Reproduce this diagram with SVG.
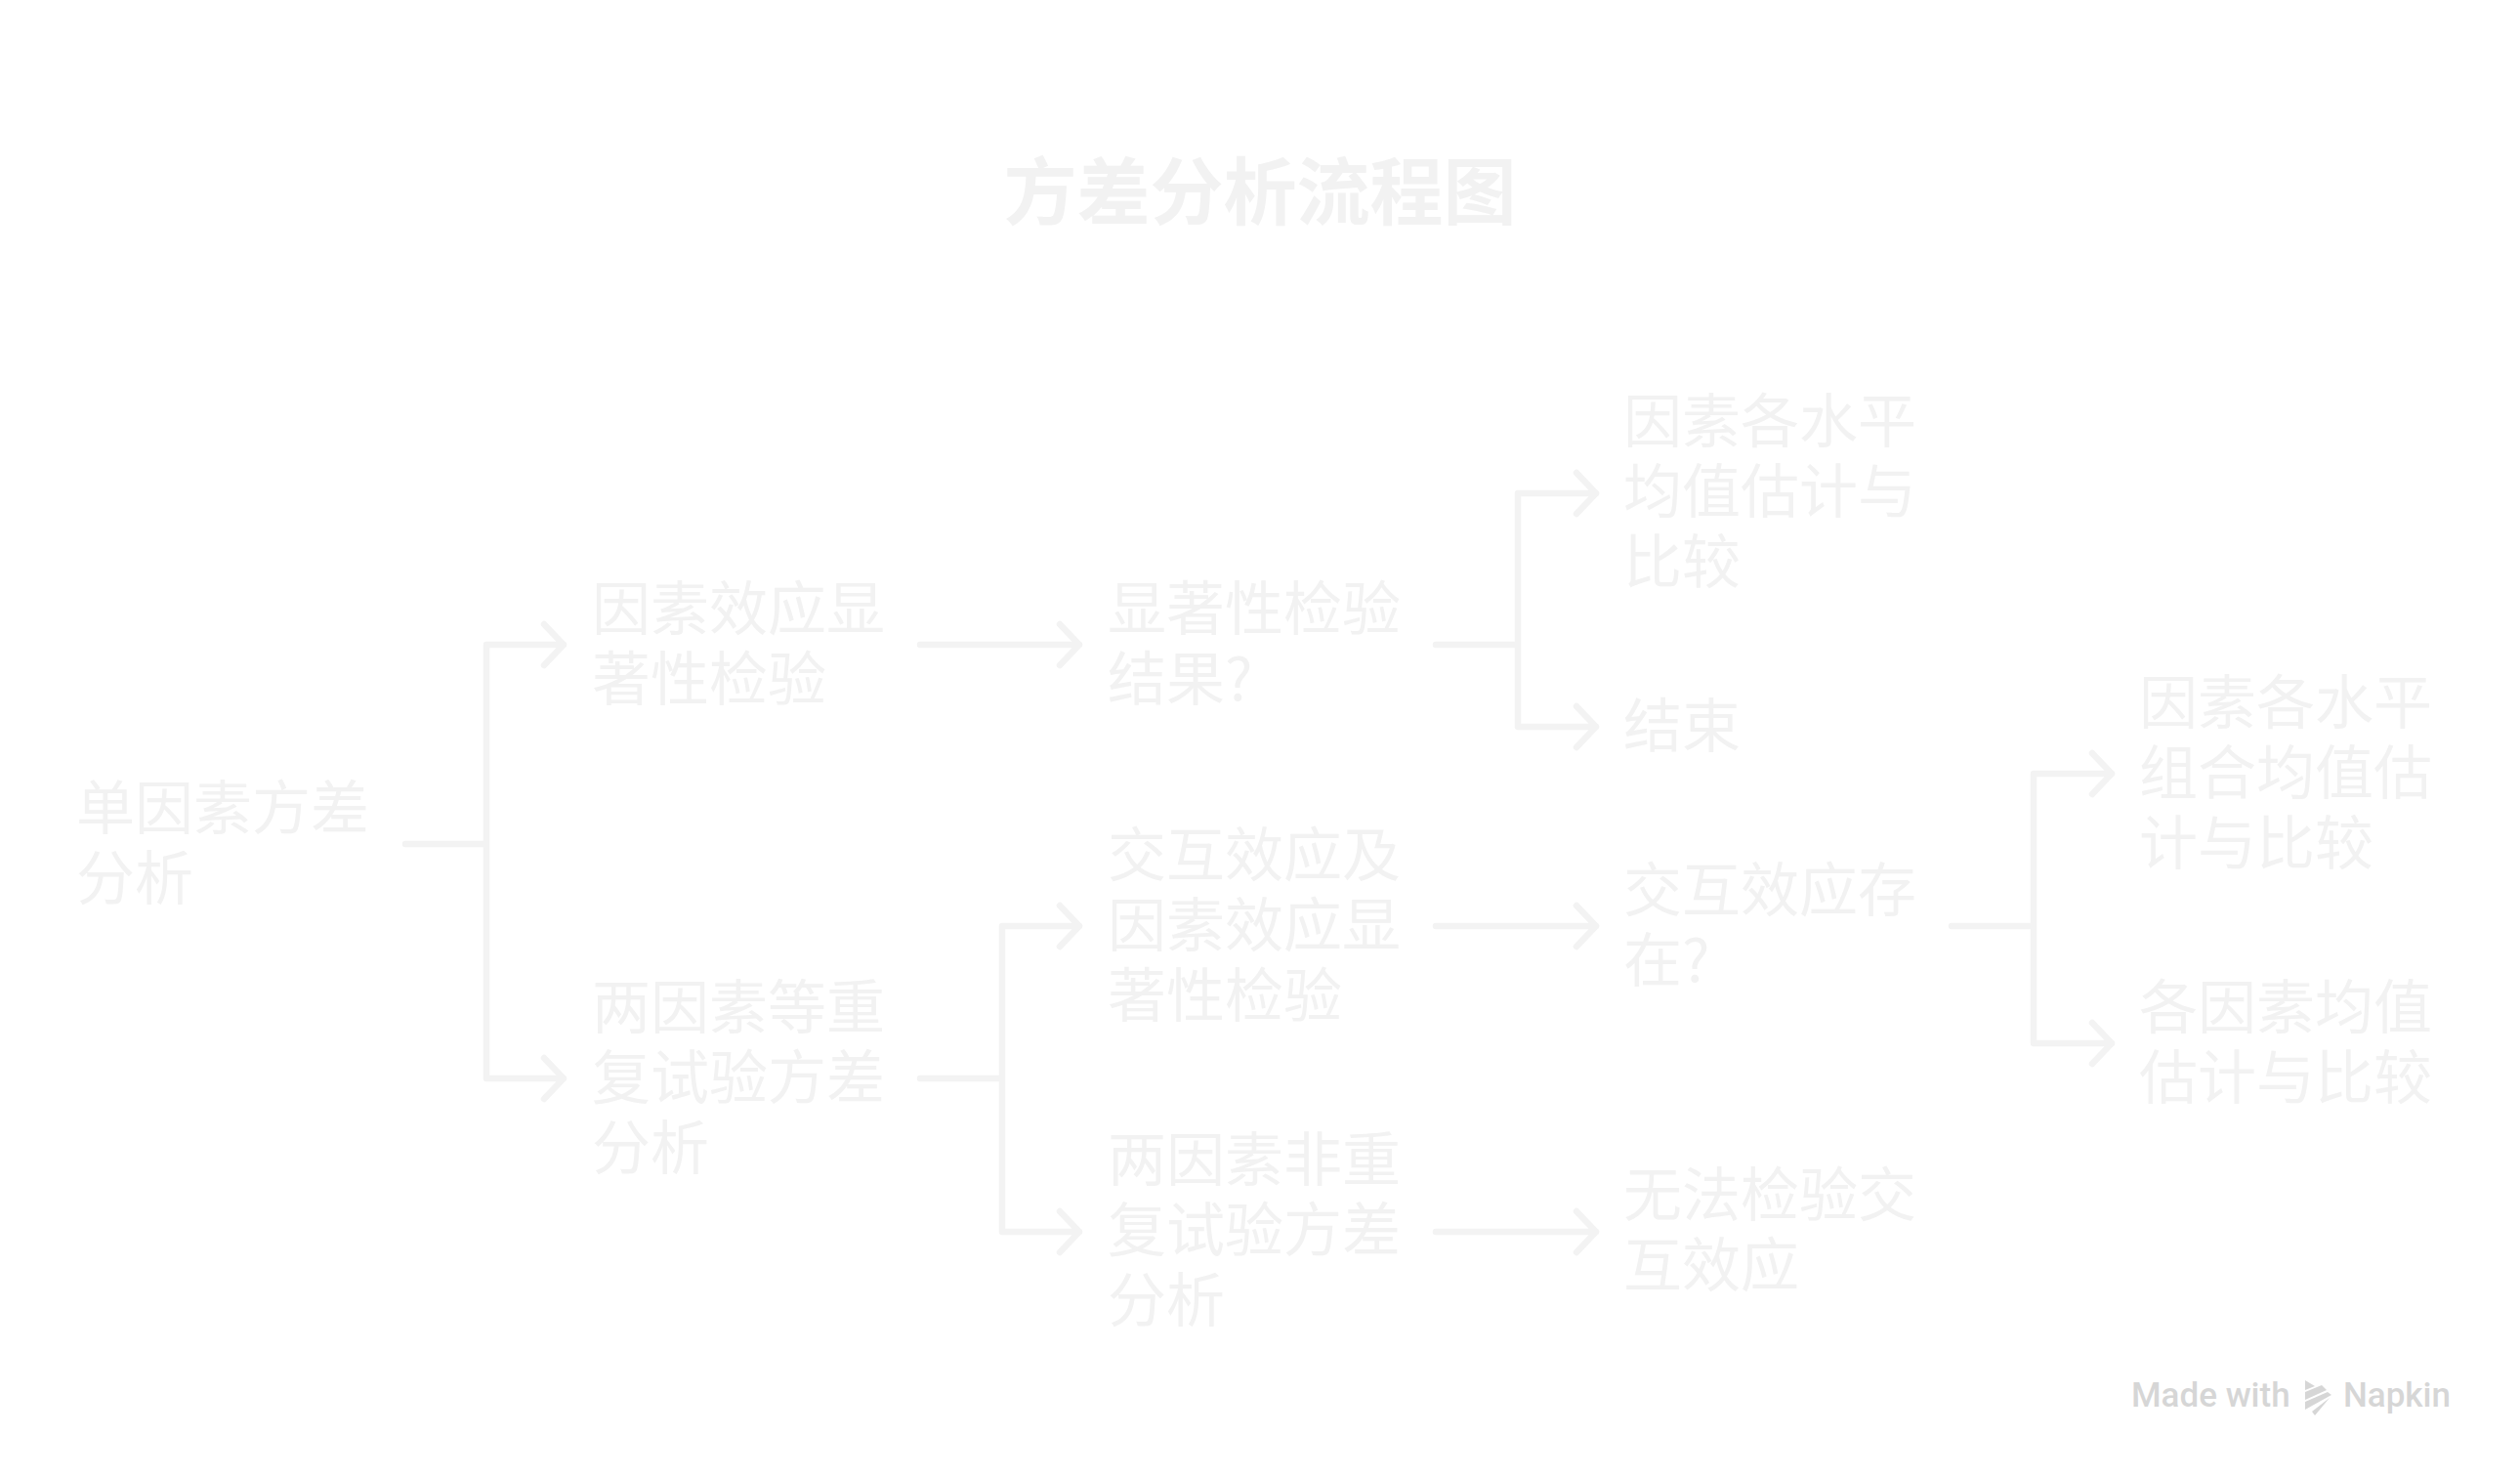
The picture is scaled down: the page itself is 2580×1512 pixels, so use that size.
<svg xmlns="http://www.w3.org/2000/svg" width="2580" height="1512" viewBox="0 0 2580 1512">
<style>
.t{font-family:"Noto Sans CJK SC","Noto Sans",sans-serif;font-size:60px;font-weight:400;fill:#f2f2f2}
.h{font-family:"Noto Sans CJK SC","Noto Sans",sans-serif;font-size:75px;font-weight:700;fill:#f2f2f2;text-anchor:middle}
.c{fill:none;stroke:#f3f3f3;stroke-width:6.5;stroke-linecap:round;stroke-linejoin:round}
.w{font-family:"Roboto",sans-serif;font-size:35px;font-weight:500;fill:#d6d6d6}
</style>
<rect width="2580" height="1512" fill="#fff"/>
<text class="h" x="1290" y="224">方差分析流程图</text>
<g id="connectors" class="c">
<path d="M415 864H498M498 1104V660H577M557 639L577 660L557 681M498 1104H577M557 1083L577 1104L557 1125"/>
<path d="M942 660H1105M1085 639L1105 660L1085 681"/>
<path d="M1470 660H1554M1554 744V505H1634M1614 484L1634 505L1614 526M1554 744H1634M1614 723L1634 744L1614 765"/>
<path d="M942 1104H1026M1026 1261V948H1105M1085 927L1105 948L1085 969M1026 1261H1105M1085 1240L1105 1261L1085 1282"/>
<path d="M1470 948H1634M1614 927L1634 948L1614 969"/>
<path d="M1470 1261H1634M1614 1240L1634 1261L1614 1282"/>
<path d="M1998 948H2082M2082 1068V792H2162M2142 771L2162 792L2142 813M2082 1068H2162M2142 1047L2162 1068L2142 1089"/>
</g>
<g id="n1" class="t"><text x="78" y="849">单因素方差</text><text x="78" y="921">分析</text></g>
<g id="n2" class="t"><text x="606" y="645">因素效应显</text><text x="606" y="717">著性检验</text></g>
<g id="n3" class="t"><text x="606" y="1053">两因素等重</text><text x="606" y="1125">复试验方差</text><text x="606" y="1197">分析</text></g>
<g id="n4" class="t"><text x="1134" y="645">显著性检验</text><text x="1134" y="717">结果?</text></g>
<g id="n5" class="t"><text x="1134" y="897">交互效应及</text><text x="1134" y="969">因素效应显</text><text x="1134" y="1041">著性检验</text></g>
<g id="n6" class="t"><text x="1134" y="1209">两因素非重</text><text x="1134" y="1281">复试验方差</text><text x="1134" y="1353">分析</text></g>
<g id="n7" class="t"><text x="1662" y="453">因素各水平</text><text x="1662" y="525">均值估计与</text><text x="1662" y="597">比较</text></g>
<g id="n8" class="t"><text x="1662" y="765">结束</text></g>
<g id="n9" class="t"><text x="1662" y="933">交互效应存</text><text x="1662" y="1005">在?</text></g>
<g id="n10" class="t"><text x="1662" y="1245">无法检验交</text><text x="1662" y="1317">互效应</text></g>
<g id="n11" class="t"><text x="2190" y="741">因素各水平</text><text x="2190" y="813">组合均值估</text><text x="2190" y="885">计与比较</text></g>
<g id="n12" class="t"><text x="2190" y="1053">各因素均值</text><text x="2190" y="1125">估计与比较</text></g>
<g id="watermark"><text class="w" x="2182" y="1440">Made with</text>
<g fill="#d6d6d6"><polygon points="2360,1413 2370,1419 2360,1423"/><polygon points="2360,1425 2377,1418 2382,1423 2360,1433"/><polygon points="2360,1435 2383,1425 2387,1428 2360,1443"/><polygon points="2367,1445 2385,1431 2370,1449"/></g>
<text class="w" x="2399" y="1440">Napkin</text></g>
</svg>
